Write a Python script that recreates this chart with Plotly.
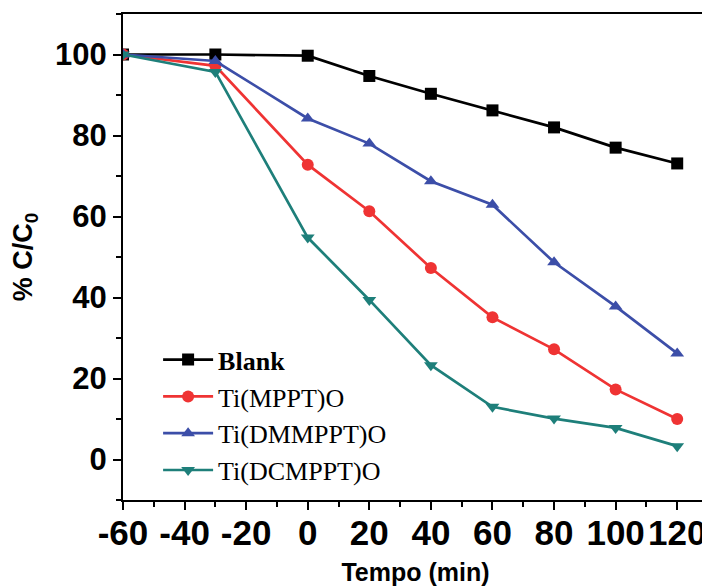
import plotly.graph_objects as go

time_min = [-60, -30, 0, 20, 40, 60, 80, 100, 120]
blank = [100, 100, 99.7, 94.7, 90.3, 86.2, 82.0, 77.0, 73.1]
ti_mppt = [100, 97.2, 72.8, 61.3, 47.3, 35.1, 27.2, 17.3, 10.0]
ti_dmmppt = [100, 98.4, 84.2, 78.0, 68.7, 62.9, 48.7, 37.8, 26.2]
ti_dcmppt = [100, 95.7, 54.8, 39.4, 23.3, 13.0, 10.1, 7.8, 3.3]

x_ticks = [-60, -40, -20, 0, 20, 40, 60, 80, 100, 120]
x_ticktext = ["-60", "-40", "-20", "0", "20", "40", "60", "80", "100", "120"]
y_ticks = [0, 20, 40, 60, 80, 100]

series = [
    ("<b>Blank</b>", blank, "#000000", "square"),
    ("Ti(MPPT)O", ti_mppt, "#EF3333", "circle"),
    ("Ti(DMMPPT)O", ti_dmmppt, "#3C4EA8", "triangle-up"),
    ("Ti(DCMPPT)O", ti_dcmppt, "#1E7F7A", "triangle-down"),
]

fig = go.Figure()
for name, vals, color, sym in series:
    fig.add_trace(go.Scatter(
        x=time_min, y=vals, name=name, mode="lines+markers",
        line=dict(color=color, width=2.7),
        marker=dict(symbol=sym, size=12, color=color),
    ))

axis_common = dict(
    showline=True, linewidth=2, linecolor="black", mirror=True,
    ticks="outside", ticklen=8, tickwidth=2, tickcolor="black",
    showgrid=False, zeroline=False, automargin=False,
)

fig.update_xaxes(
    range=[-60, 130], tickmode="array",
    tickvals=x_ticks, ticktext=x_ticktext,
    tickfont=dict(family="Liberation Sans", size=35, color="black", weight="bold"),
    ticklabelstandoff=-7,
    minor=dict(dtick=10, tick0=0, ticklen=5, tickwidth=2, tickcolor="black", ticks="outside"),
    title=dict(text="<b>Tempo (min)</b>", font=dict(family="Liberation Sans", size=25, color="black"), standoff=14),
    **axis_common,
)
fig.update_yaxes(
    range=[-10, 110], tickmode="array",
    tickvals=y_ticks,
    tickfont=dict(family="Liberation Sans", size=31, color="black", weight="bold"),
    minor=dict(dtick=10, tick0=0, ticklen=5, tickwidth=2, tickcolor="black", ticks="outside"),
    title=dict(text="<b>% C/C<sub>0</sub></b>", font=dict(family="Liberation Sans", size=27, color="black"), standoff=22),
    **axis_common,
)

fig.update_layout(
    width=702, height=578,
    margin=dict(l=115, r=2, t=6, b=86, autoexpand=False),
    plot_bgcolor="white", paper_bgcolor="white",
    showlegend=True,
    legend=dict(
        x=0.06, y=0.337, xanchor="left", yanchor="top",
        bgcolor="rgba(0,0,0,0)", borderwidth=0,
        font=dict(family="Liberation Serif", size=26, color="black"),
        tracegroupgap=0, itemwidth=50,
    ),
)

fig.write_html("out.html")
